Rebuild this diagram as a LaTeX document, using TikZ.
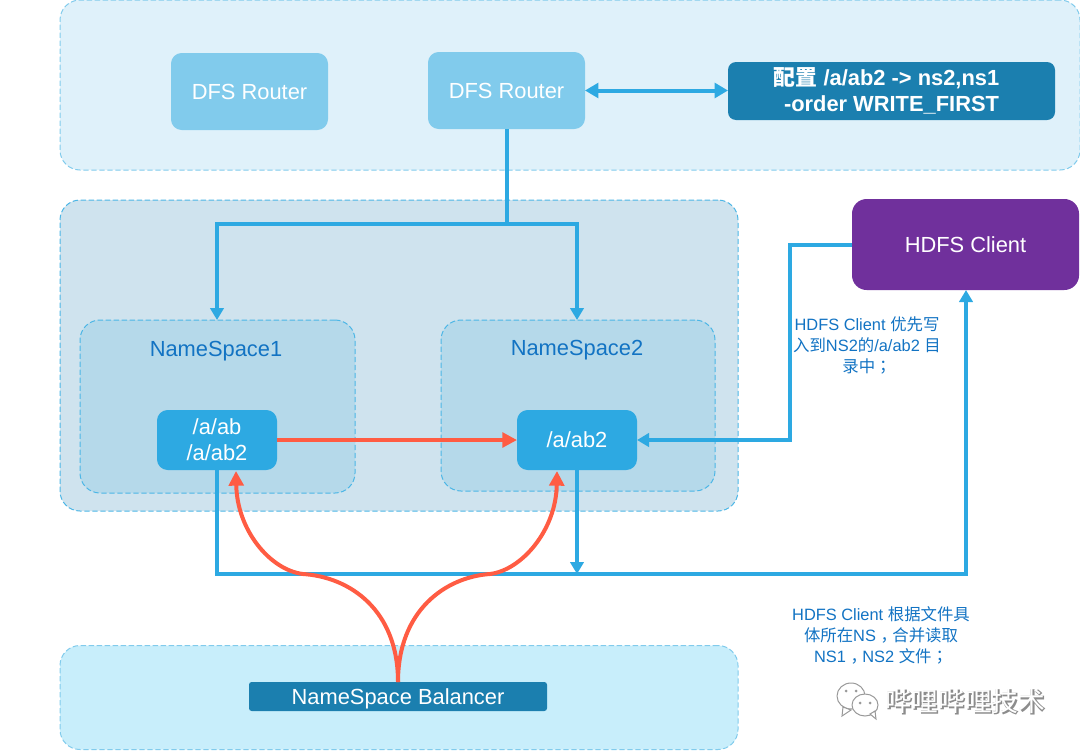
\documentclass[tikz,border=0pt]{standalone}
\usepackage{fontspec}
\setmainfont{Liberation Sans}
\newfontfamily\cjk{Noto Sans CJK SC}
\newfontfamily\cjkpunct{Noto Sans CJK TC}
\usetikzlibrary{arrows.meta}

\definecolor{routerblue}{RGB}{129,203,236}
\definecolor{fileblue}{RGB}{45,169,226}
\definecolor{darkblue}{RGB}{27,127,175}
\definecolor{clientpurple}{RGB}{112,48,156}
\definecolor{balred}{RGB}{255,92,67}
\definecolor{noteblue}{RGB}{18,115,195}
\definecolor{topfill}{RGB}{223,241,250}
\definecolor{midfill}{RGB}{207,227,238}
\definecolor{nsfill}{RGB}{181,217,234}
\definecolor{botfill}{RGB}{200,238,251}

\newcommand{\notecomma}{{\cjk\kern3.5pt，\kern-3.5pt}}

\tikzset{every picture/.style={line width=0.75pt}}
\tikzset{
	sized/.style 2 args={minimum width=#1*0.75pt,minimum height=#2*0.75pt,inner sep=0pt,outer sep=0pt},
	region/.style={draw=#1,dash pattern=on 4pt off 2pt,line width=0.75pt,rounded corners=15pt},
	solidbox/.style={fill=#1,text=white,align=center,font=\fontsize{16.4}{19.5}\selectfont,rounded corners=8pt},
	bluewire/.style={draw=fileblue,line width=3pt,-{Triangle[length=9pt,width=10pt]}},
	redwire/.style={draw=balred,line width=3pt,-{Triangle[length=11pt,width=11pt]}},
	note/.style={text=noteblue,align=center,font=\fontsize{12.3}{15.75}\selectfont},
}

\begin{document}
\begin{tikzpicture}[x=0.75pt,y=0.75pt,yscale=-1,xscale=1]
	\useasboundingbox (0,0) rectangle (1080,750);

	% regions
	\node (routerregion) [region=routerblue,fill=topfill,sized={1020}{170}] at (570,85) {};
	\node (nsregion) [region=fileblue!85,fill=midfill,sized={678}{311}] at (399,355.5) {};
	\node (balregion) [region=routerblue,fill=botfill,sized={678}{104}] at (399,697.5) {};
	\node (nsbox1) [region=fileblue!85,fill=nsfill,sized={275}{173}] at (217.5,406.5) {};
	\node (nsbox2) [region=fileblue!85,fill=nsfill,sized={274}{171}] at (578,405.5) {};

	% routers and config
	\node (router1) [solidbox=routerblue,sized={157}{77},text depth=0pt] at (249.5,91.5) {DFS Router};
	\node (router2) [solidbox=routerblue,sized={157}{77},text depth=0pt] at (506.5,90.5) {DFS Router};
	\node (config) [solidbox=darkblue,sized={327}{58},rounded corners=6pt] at (891.5,91) {\raisebox{-2.2pt}{\bfseries{\cjk 配置} /a/ab2 -> ns2,ns1}\hspace*{7.5pt}\\\raisebox{-2.2pt}{\bfseries -order WRITE\_FIRST}};
	\node (client) [solidbox=clientpurple,sized={227}{91},text depth=0pt,rounded corners=11pt] at (965.5,244.5) {HDFS Client};

	% namespaces
	\node (ns1) [text=noteblue,font=\fontsize{16.4}{19.5}\selectfont,text depth=0pt] at (216,349) {NameSpace1};
	\node (ns2) [text=noteblue,font=\fontsize{16.4}{19.5}\selectfont,text depth=0pt] at (577,348) {NameSpace2};
	\node (ab) [solidbox=fileblue,sized={120}{60}] at (217,440) {\raisebox{-1pt}{/a/ab}\\\raisebox{-1pt}{/a/ab2}};
	\node (abb) [solidbox=fileblue,sized={120}{60},text depth=0pt] at (577,440) {/a/ab2};
	\node (balancer) [solidbox=darkblue,sized={298}{29},text depth=0pt,rounded corners=2pt] at (398,696.5) {NameSpace Balancer};

	% notes
	\node (writenote) [note] at (867,345.5) {HDFS Client {\cjk 优先写}\\{\cjk 入到}NS2{\cjk 的}/a/ab2 {\cjk 目}\\{\cjk 录中}{\cjkpunct ；}};
	\node (readnote) [note] at (881,635.5) {HDFS Client {\cjk 根据文件具}\\{\cjk 体所在}NS\notecomma{\cjk 合并读取}\\NS1\notecomma NS2 {\cjk 文件}{\cjkpunct ；}};

	% routing
	\coordinate (split) at (router2.south |- 0,224);
	\draw [draw=fileblue,line width=3pt] (router2.south) -- (split);
	\draw [bluewire] (split) -| (nsbox1.north -| ab.south);
	\draw [bluewire] (split) -| (nsbox2.north -| abb.south);
	\draw [draw=fileblue,line width=3pt,{Triangle[length=10pt,width=11pt]}-{Triangle[length=10pt,width=11pt]}] (router2.east) -- (config.west |- router2.east);

	% client paths
	\coordinate (clientbend) at (790,245);
	\draw [bluewire] (client.west |- clientbend) -- (clientbend) |- (abb.east);
	\coordinate (readcorner) at (217,574);
	\coordinate (readend) at (966,574);
	\draw [bluewire] (ab.south) -- (readcorner) -- (readend) -- (client.south -| readend);
	\draw [bluewire] (abb.south) -- (abb.south |- readend);

	% balancing
	\draw [redwire] (ab.east) -- (abb.west);
	\coordinate (balstart) at (398,682);
	\draw [redwire] (balstart) .. controls (398,610) and (350,577) .. (303,574) .. controls (270,570) and (237,530) .. (236,471);
	\draw [redwire] (balstart) .. controls (398,610) and (446,577) .. (490,574) .. controls (522,570) and (556,530) .. (557,471);

	% chat mark
	\begin{scope}[draw=black!40,fill=white,line width=0.75pt]
		\filldraw (851,696) ellipse (14 and 13);
		\filldraw (843,707) -- (842,716) -- (851,710) -- cycle;
		\filldraw (865,705) ellipse (13 and 11);
		\filldraw (870,714) -- (876,719) -- (875,711) -- cycle;
		\fill [black!40] (846,691) circle (1.5) (856,691) circle (1.5) (860,703) circle (1.5) (870,703) circle (1.5);
	\end{scope}

	% mark text
	\node (marktextshadow) [text=black!45,font=\cjk\bfseries\fontsize{20}{22}\selectfont] at (966,702.5) {哔哩哔哩技术};
	\node (marktext) [text=white,font=\cjk\fontsize{20}{22}\selectfont] at (965,701.5) {哔哩哔哩技术};
\end{tikzpicture}
\end{document}
